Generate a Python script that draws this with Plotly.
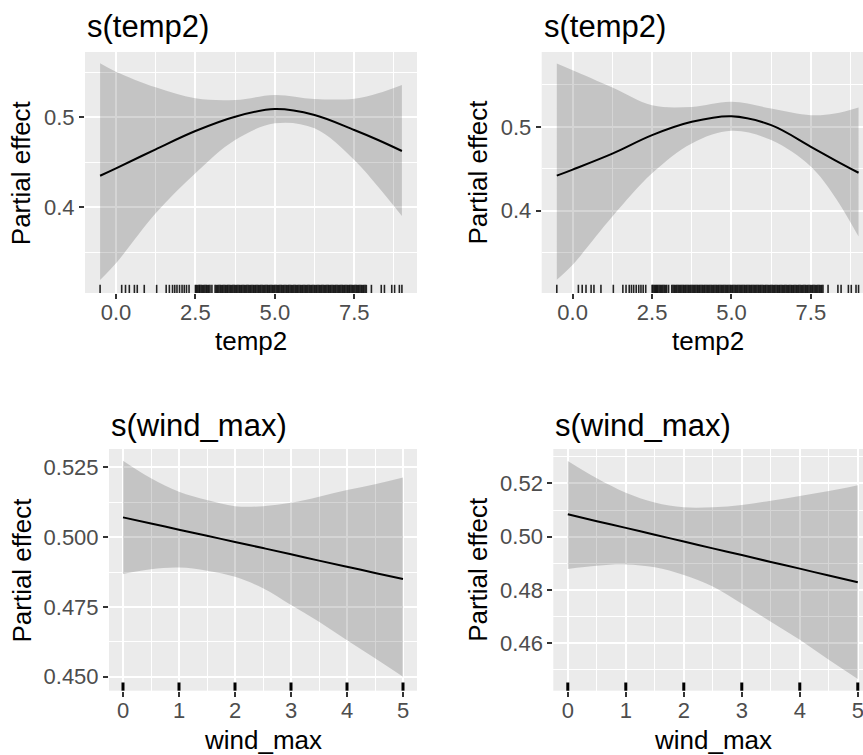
import plotly.graph_objects as go

W, H = 863, 755
FONT = "Liberation Sans, Arial, Helvetica, sans-serif"

# ---------------- data ----------------
# s(temp2), left model
t_x = [-0.5, 0.0, 1.25, 2.5, 3.75, 5.0, 6.25, 7.5, 8.25, 9.0]
tl_fit = [0.4351, 0.4433, 0.4645, 0.4848, 0.5007, 0.5092, 0.5026, 0.4859, 0.4748, 0.4626]
tl_up = [0.5600, 0.5507, 0.5333, 0.5211, 0.5192, 0.5248, 0.5203, 0.5207, 0.5267, 0.5359]
tl_lo = [0.3192, 0.3378, 0.3933, 0.4378, 0.4748, 0.4933, 0.4878, 0.4526, 0.4229, 0.3903]

# s(temp2), right model
tr_fit = [0.4417, 0.4490, 0.4680, 0.4901, 0.5060, 0.5127, 0.5020, 0.4762, 0.4604, 0.4452]
tr_up = [0.5755, 0.5675, 0.5469, 0.5258, 0.5238, 0.5298, 0.5219, 0.5139, 0.5159, 0.5231]
tr_lo = [0.3175, 0.3354, 0.3929, 0.4445, 0.4802, 0.4952, 0.4842, 0.4524, 0.4167, 0.3690]

# s(wind_max)
w_x = [0, 0.5, 1, 1.5, 2, 2.5, 3, 3.5, 4, 4.5, 5]
bl_fit = [0.5071, 0.5049, 0.5027, 0.5005, 0.4983, 0.4961, 0.4939, 0.4916, 0.4894, 0.4872, 0.4850]
bl_up = [0.5274, 0.5211, 0.5163, 0.5133, 0.5111, 0.5111, 0.5123, 0.5145, 0.5169, 0.5190, 0.5214]
bl_lo = [0.4868, 0.4885, 0.4891, 0.4880, 0.4858, 0.4817, 0.4757, 0.4697, 0.4631, 0.4566, 0.4500]

br_fit = [0.5084, 0.5058, 0.5033, 0.5007, 0.4982, 0.4956, 0.4931, 0.4905, 0.4880, 0.4854, 0.4829]
br_up = [0.5284, 0.5219, 0.5165, 0.5128, 0.5110, 0.5110, 0.5119, 0.5135, 0.5153, 0.5171, 0.5193]
br_lo = [0.4879, 0.4891, 0.4896, 0.4885, 0.4856, 0.4813, 0.4748, 0.4681, 0.4613, 0.4538, 0.4466]

# rug observations
rug_temp2 = [-0.5, 0.18, 0.3, 0.42, 0.58, 0.67, 0.89, 1.28,
             1.58, 1.68, 1.78, 1.85, 1.92, 2.0, 2.08, 2.15, 2.22, 2.3,
             2.5, 2.57, 2.64, 2.72, 2.8, 2.88, 2.96, 3.02,
             3.12, 3.2, 3.28, 3.36, 3.44, 3.52, 3.6, 3.68, 3.76, 3.84, 3.92,
             4.0, 4.08, 4.16, 4.24, 4.32, 4.4, 4.48, 4.56, 4.64, 4.72, 4.8, 4.88, 4.96,
             5.04, 5.12, 5.2, 5.28, 5.36, 5.44, 5.52, 5.6, 5.68, 5.76, 5.84, 5.92,
             6.0, 6.08, 6.16, 6.24, 6.32, 6.4, 6.48, 6.56, 6.64, 6.72, 6.8, 6.88, 6.96,
             7.04, 7.12, 7.2, 7.28, 7.36, 7.44, 7.52, 7.6, 7.68, 7.76, 7.84,
             8.04, 8.35, 8.45, 8.68, 8.77, 8.92, 9.0,
             2.53, 2.61, 2.68, 2.76, 2.84, 2.92,
             3.16, 3.24, 3.32, 3.4, 3.48, 3.56, 3.64, 3.72, 3.8, 3.88, 3.96,
             4.04, 4.12, 4.2, 4.28, 4.36, 4.44, 4.52, 4.6, 4.68, 4.76, 4.84, 4.92,
             5.0, 5.08, 5.16, 5.24, 5.32, 5.4, 5.48, 5.56, 5.64, 5.72, 5.8, 5.88, 5.96,
             6.04, 6.12, 6.2, 6.28, 6.36, 6.44, 6.52, 6.6, 6.68, 6.76, 6.84, 6.92,
             7.0, 7.08, 7.16, 7.24, 7.32, 7.4, 7.48, 7.56, 7.64, 7.72, 7.8, 7.88]
rug_wind = [0, 1, 2, 3, 4, 5]

titles = ["s(temp2)", "s(temp2)", "s(wind_max)", "s(wind_max)"]
xtitles = ["temp2", "temp2", "wind_max", "wind_max"]
ytitle = "Partial effect"

# ---------------- layout geometry (pixels) ----------------
panels = [
    dict(x0=85, x1=417, top=52, bot=293, xr=[-0.975, 9.475], yr=[0.3048, 0.5726],
         dx=2.5, dy=0.1, xf=".1f", yf=".1f", xs=t_x, fit=tl_fit, up=tl_up, lo=tl_lo,
         rug=rug_temp2, rugw=1.6, rugc="rgba(0,0,0,0.85)", xmid=4.25, ytx=21.7),
    dict(x0=541.7, x1=863, top=52, bot=293, xr=[-0.975, 9.14], yr=[0.3017, 0.5893],
         dx=2.5, dy=0.1, xf=".1f", yf=".1f", xs=t_x, fit=tr_fit, up=tr_up, lo=tr_lo,
         rug=rug_temp2, rugw=1.6, rugc="rgba(0,0,0,0.85)", xmid=4.25, ytx=478),
    dict(x0=109, x1=417, top=449, bot=690.7, xr=[-0.25, 5.25], yr=[0.445, 0.5316],
         dx=1, dy=0.025, xf="d", yf=".3f", xs=w_x, fit=bl_fit, up=bl_up, lo=bl_lo,
         rug=rug_wind, rugw=3, rugc="black", xmid=2.5, ytx=21.7),
    dict(x0=553.3, x1=863, top=449, bot=690.7, xr=[-0.25, 5.09], yr=[0.4422, 0.5329],
         dx=1, dy=0.02, xf="d", yf=".2f", xs=w_x, fit=br_fit, up=br_up, lo=br_lo,
         rug=rug_wind, rugw=3, rugc="black", xmid=2.5, ytx=478),
]

fig = go.Figure()
layout = dict(width=W, height=H, margin=dict(l=0, r=0, t=0, b=0),
              paper_bgcolor="white", plot_bgcolor="#EBEBEB",
              showlegend=False, font=dict(family=FONT, color="black"))
shapes = []
annotations = []

for i, p in enumerate(panels):
    n = "" if i == 0 else str(i + 1)
    xa, ya = "x" + n, "y" + n
    # ribbon
    fig.add_trace(go.Scatter(x=p["xs"], y=p["lo"], mode="lines", xaxis=xa, yaxis=ya,
                             line=dict(width=0, color="rgba(0,0,0,0)", shape="spline"),
                             hoverinfo="skip"))
    fig.add_trace(go.Scatter(x=p["xs"], y=p["up"], mode="lines", xaxis=xa, yaxis=ya,
                             fill="tonexty", fillcolor="rgba(0,0,0,0.165)",
                             line=dict(width=0, color="rgba(0,0,0,0)", shape="spline"),
                             hoverinfo="skip"))
    fig.add_trace(go.Scatter(x=p["xs"], y=p["fit"], mode="lines", xaxis=xa, yaxis=ya,
                             line=dict(width=2, color="black", shape="spline")))

    common = dict(showgrid=True, gridcolor="white", gridwidth=2, zeroline=False,
                  showline=False, ticks="outside", ticklen=5, tickwidth=2,
                  tickcolor="#333333", ticklabeloverflow="allow",
                  tickfont=dict(family=FONT, size=22, color="#4D4D4D"))
    layout["xaxis" + n] = dict(common, domain=[p["x0"] / W, p["x1"] / W], anchor=ya,
                               range=p["xr"], tick0=0, dtick=p["dx"], tickformat=p["xf"],
                               ticklabelstandoff=-5,
                               minor=dict(dtick=p["dx"] / 2, tick0=0, showgrid=True,
                                          gridcolor="white", gridwidth=1))
    layout["yaxis" + n] = dict(common, domain=[1 - p["bot"] / H, 1 - p["top"] / H], anchor=xa,
                               range=p["yr"], tick0=0, dtick=p["dy"], tickformat=p["yf"],
                               minor=dict(dtick=p["dy"] / 2, tick0=0, showgrid=True,
                                          gridcolor="white", gridwidth=1))
    # rug
    for v in p["rug"]:
        shapes.append(dict(type="line", xref=xa, yref=ya + " domain", x0=v, x1=v,
                           y0=0, y1=0.034, layer="above",
                           line=dict(color=p["rugc"], width=p["rugw"])))
    # panel title
    annotations.append(dict(text=titles[i], xref="paper", yref="paper",
                            x=p["x0"] / W, y=1 - (26.5 if i < 2 else 425) / H,
                            xanchor="left", yanchor="middle", showarrow=False,
                            font=dict(family=FONT, size=31, color="black")))
    # x title
    annotations.append(dict(text=xtitles[i], xref=xa, yref="paper", x=p["xmid"],
                            y=1 - (341 if i < 2 else 740) / H,
                            xanchor="center", yanchor="middle", showarrow=False,
                            font=dict(family=FONT, size=26, color="black")))
    # y title
    annotations.append(dict(text=ytitle, xref="paper", yref="paper", x=p["ytx"] / W,
                            y=1 - ((p["top"] + p["bot"]) / 2) / H, textangle=-90,
                            xanchor="center", yanchor="middle", showarrow=False,
                            font=dict(family=FONT, size=26, color="black")))

layout["shapes"] = shapes
layout["annotations"] = annotations
fig.update_layout(**layout)
fig.write_html("out.html")
